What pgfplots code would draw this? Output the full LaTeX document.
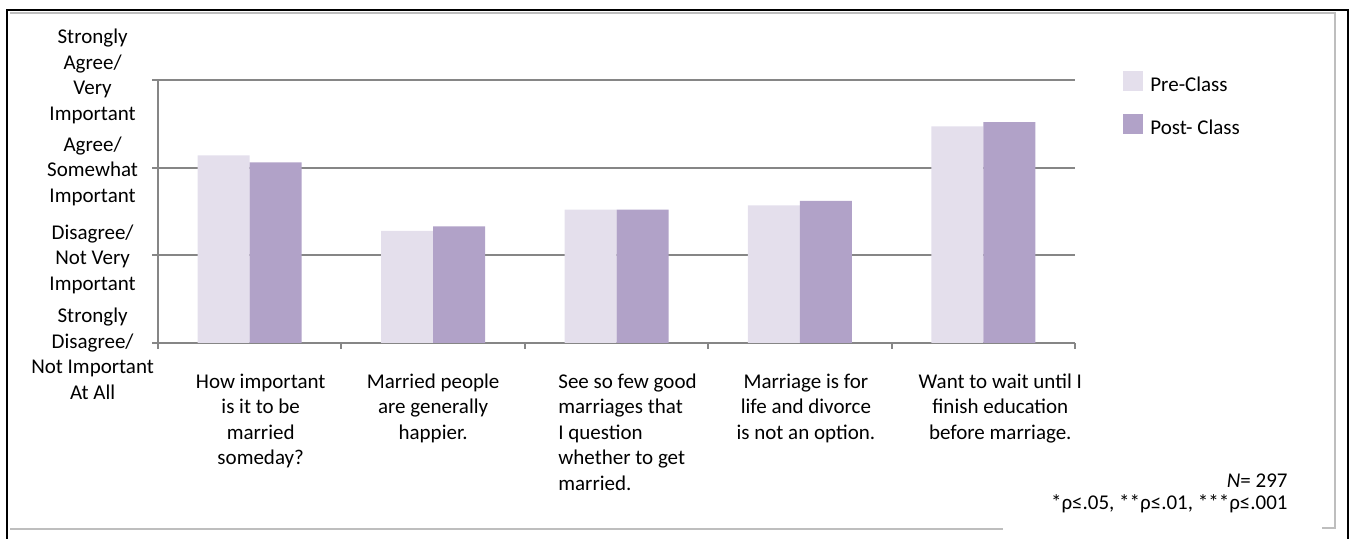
\documentclass[border=0pt]{standalone}
\usepackage{pgfplots}
\pgfplotsset{compat=1.18}
\usepackage{fontspec}
\setmainfont{Carlito}
\definecolor{preC}{RGB}{228,223,236}
\definecolor{postC}{RGB}{177,162,200}
\definecolor{gridg}{RGB}{134,134,134}
\definecolor{frameg}{RGB}{190,190,190}
\newcommand{\yl}[1]{\makebox[62pt][c]{\begin{tabular}{@{}c@{}}#1\end{tabular}}}
\begin{document}
\fontsize{10.5pt}{12.75pt}\selectfont
\begin{tikzpicture}
\useasboundingbox (0,0) rectangle (676pt,269.5pt);
% outer frame
\draw[black, line width=1pt] (3.5pt,0pt) -- (3.5pt,264.5pt) -- (674pt,264.5pt) -- (674pt,0pt);
\draw[frameg, line width=0.6pt] (5pt,263pt) -- (667.5pt,263pt) -- (667.5pt,5.5pt) -- (661pt,5.5pt);
\draw[frameg, line width=0.6pt] (5pt,5pt) -- (501.5pt,5pt);
\begin{axis}[
  at={(79pt,98pt)}, anchor=south west,
  scale only axis, width=458.5pt, height=131.5pt,
  ybar=0pt, bar width=26pt,
  xmin=0.5, xmax=5.5, ymin=1, ymax=4,
  axis x line=bottom, axis y line=left,
  axis line style={-, draw=gridg, line width=1pt},
  ymajorgrids=true,
  grid style={draw=gridg, line width=1pt},
  tick align=outside,
  major tick length=3pt, minor tick length=3pt,
  ytick={1,2,3,4},
  y tick style={draw=gridg, line width=1pt},
  yticklabels={
    {\yl{Strongly\\Disagree/\\Not Important\\At All}},
    {\yl{Disagree/\\Not Very\\Important}},
    {\yl{Agree/\\Somewhat\\Important}},
    {\yl{Strongly\\Agree/\\Very\\Important}}},
  yticklabel style={inner sep=0pt, xshift=1.5pt,
    yshift={-6.5*(\ticknum==0) - 2.25*(\ticknum==1) - 2*(\ticknum==2) + 1.5*(\ticknum==3)}},
  xtick={1,2,3,4,5},
  major x tick style={draw=none},
  minor xtick={0.5,1.5,2.5,3.5,4.5,5.5},
  minor x tick style={draw=gridg, line width=1pt},
  xticklabels={
    {\hspace*{11pt}\begin{tabular}{@{}c@{}}How important\\is it to be\\married\\someday?\end{tabular}},
    {\begin{tabular}{@{}c@{}}Married people\\are generally\\happier.\end{tabular}},
    {\hspace*{11pt}\begin{tabular}{@{}l@{}}See so few good\\marriages that\\I question\\whether to get\\married.\end{tabular}},
    {\hspace*{6pt}\begin{tabular}{@{}c@{}}Marriage is for\\life and divorce\\is not an option.\end{tabular}},
    {\hspace*{17pt}\begin{tabular}{@{}c@{}}Want to wait until I\\finish education\\before marriage.\end{tabular}}},
  xticklabel style={yshift=-7pt},
  legend style={at={(axis description cs:1.0523,1.034)}, anchor=north west,
    draw=none, fill=none, inner sep=0pt, row sep=8pt},
  legend cell align=left,
]
\addplot[fill=preC, draw=none, bar shift=-13pt,
  legend image code/.code={\fill[preC] (0pt,-3pt) rectangle (10pt,7pt);}]
  coordinates {(1,3.14) (2,2.28) (3,2.52) (4,2.57) (5,3.47)};
\addplot[fill=postC, draw=none, bar shift=13pt,
  legend image code/.code={\fill[postC] (0pt,-3pt) rectangle (10pt,7pt);}]
  coordinates {(1,3.06) (2,2.33) (3,2.52) (4,2.62) (5,3.52)};
\legend{\hspace{1.5pt}Pre-Class, \hspace{1.5pt}Post- Class}
\end{axis}
\node[anchor=base east, inner sep=0pt] at (644pt,25.5pt) {\textit{N}= 297};
\node[anchor=base east, inner sep=0pt] at (644pt,14.5pt) {*ρ≤.05, **ρ≤.01, ***ρ≤.001};
\end{tikzpicture}
\end{document}
